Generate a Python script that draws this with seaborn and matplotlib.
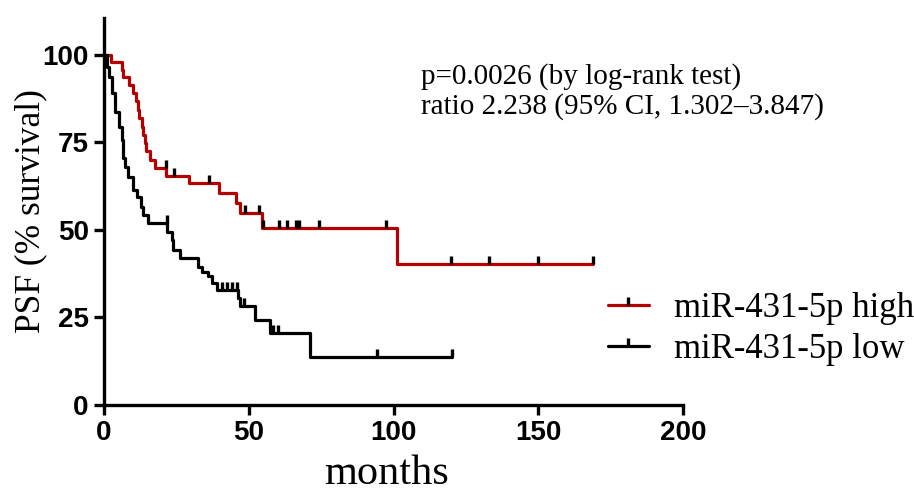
import numpy as np
import pandas as pd
import matplotlib
matplotlib.use('Agg')
import matplotlib.pyplot as plt
from matplotlib.path import Path
from matplotlib.lines import Line2D
import seaborn as sns

# Kaplan-Meier steps (months, % survival)
high_t = [0, 2.3, 6.1, 6.7, 8.7, 9.9, 10.9, 11.6, 12.1, 13.1, 13.6, 14.0, 14.4, 15.9,
          17.6, 21.5, 29.4, 39.8, 45.5, 47.0, 54.5, 101.3, 169]
high_s = [100, 97.9, 95.7, 93.6, 91.4, 89.0, 86.7, 84.3, 81.9, 79.5, 77.1, 74.8, 72.4, 70.0,
          67.6, 65.4, 63.3, 60.5, 57.6, 54.8, 50.5, 40.4, 40.4]
high_cens = [21.3, 24.3, 36.1, 48.6, 53.6, 55.0, 60.5, 63.3, 66.2, 67.2, 74.3, 97.3,
             120, 133, 150, 169]

low_t = [0, 1.0, 1.8, 2.6, 3.8, 5.3, 6.1, 6.7, 7.3, 8.4, 10.1, 11.3, 12.9, 13.6, 15.3,
         21.8, 23.4, 23.9, 26.3, 32.6, 33.7, 36.0, 37.2, 38.9, 46.4, 47.0, 52.2, 57.3,
         71.2, 120.3]
low_s = [100, 96.5, 93.8, 89.0, 83.8, 79.5, 75.7, 70.5, 68.1, 65.2, 61.4, 59.5, 56.5, 54.3,
         51.9, 49.5, 47.1, 44.3, 41.9, 39.5, 38.1, 36.7, 34.8, 32.9, 30.5, 28.3, 24.3, 20.5,
         13.8, 13.8]
low_cens = [21.6, 40.6, 42.4, 44.1, 45.8, 48.5, 58.3, 60.2, 94.2, 120.3]

labels = ['miR-431-5p high', 'miR-431-5p low']
colors = ['#b40000', 'black']

sns.set_style('ticks', {'axes.edgecolor': 'black', 'xtick.color': 'black',
                        'ytick.color': 'black', 'text.color': 'black',
                        'axes.labelcolor': 'black'})
plt.rcParams['font.family'] = ['Liberation Serif', 'DejaVu Serif']


def censor_y(t, s, cens):
    idx = np.searchsorted(t, cens, side='right') - 1
    return np.asarray(s)[idx]


tick_mark = Path([[0, 0], [0, 1]])

fig = plt.figure(figsize=(9.14, 4.96), dpi=100)
ax = fig.add_axes([0.1138, 0.1835, 0.6335, 0.780])

for t, s, cens, lab, col in [(high_t, high_s, high_cens, labels[0], colors[0]),
                             (low_t, low_s, low_cens, labels[1], colors[1])]:
    df = pd.DataFrame({'months': t, 'surv': s})
    sns.lineplot(data=df, x='months', y='surv', drawstyle='steps-post', color=col,
                 lw=2.3, ax=ax, estimator=None, sort=False, zorder=3)
    cdf = pd.DataFrame({'months': cens, 'surv': censor_y(t, s, cens)})
    sns.scatterplot(data=cdf, x='months', y='surv', marker=tick_mark, s=130,
                    color='black', edgecolor='black', linewidth=2.4, ax=ax, zorder=4)

ax.set_xlim(0, 200)
ax.set_ylim(0, 110.5)
ax.set_xticks([0, 50, 100, 150, 200])
ax.set_yticks([0, 25, 50, 75, 100])
sns.despine(ax=ax)
for sp in ['left', 'bottom']:
    ax.spines[sp].set_linewidth(2.4)
ax.tick_params(width=2.4, length=7, labelsize=20, pad=4, colors='black')
for lb in ax.get_xticklabels() + ax.get_yticklabels():
    lb.set_fontfamily('Liberation Sans')
    lb.set_fontweight('bold')

ax.set_xlabel('months', fontsize=30.5)
ax.xaxis.set_label_coords(0.488, -0.128)
ax.set_ylabel('PSF (% survival)', fontsize=25.5)
ax.yaxis.set_label_coords(-0.098, 0.50)

ax.text(109.5, 97.8, 'p=0.0026 (by log-rank test)\nratio 2.238 (95% CI, 1.302\u20133.847)',
        fontsize=21, va='top', ha='left', linespacing=1.17)

handles = [Line2D([], [], color=c, lw=2.3, marker=tick_mark, markersize=12,
                  markeredgecolor='black', markeredgewidth=2.4) for c in colors]
fig.legend(handles, labels, loc='upper left', bbox_to_anchor=(0.665, 0.411),
           frameon=False, fontsize=25, handlelength=1.18, handletextpad=0.72,
           labelspacing=0.22, borderpad=0, borderaxespad=0)

fig.savefig('out.png', dpi=100)
